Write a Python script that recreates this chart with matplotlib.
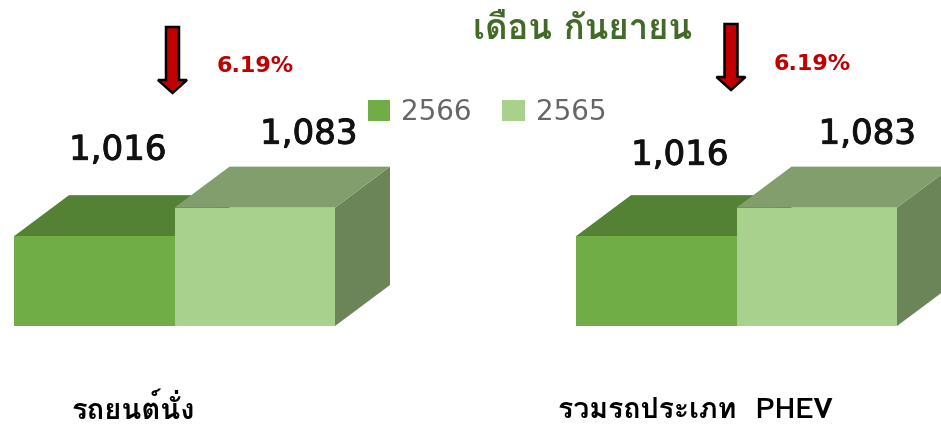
import matplotlib
matplotlib.use('Agg')
import matplotlib.pyplot as plt
import matplotlib.patheffects as pe
from matplotlib.patches import Polygon, FancyArrow

# ---- data ----
title = 'เดือน กันยายน'
years = ['2566', '2565']
categories = ['รถยนต์นั่ง', 'รวมรถประเภท  PHEV']
sales_2566 = [1016, 1016]
sales_2565 = [1083, 1083]
change_pct = [6.19, 6.19]

# ---- style ----
front_col = ['#70AD47', '#A9D18E']
top_col = ['#548235', '#819E6C']
side_col = ['#4E7A30', '#6B8559']
THAI = ['Loma', 'DejaVu Sans']

W, H = 941, 425
fig = plt.figure(figsize=(W / 100, H / 100), dpi=100)

def fx(px):
    return px / W

def fy(py):
    return 1 - py / H

YMIN, YMAX = 805, 1150
PX_PER_UNIT = 0.4257      # vertical pixels per sales unit
BAR_PX = 160.5            # width of one bar front in pixels
DEPTH_PX = (55, 41)       # 3d depth offset (right, up)
BASE_PX = 326             # floor line in pixels from top

panel_left = [14, 576]
label_off = [[(23.5, 86), (54, 73.5)], [(23.5, 81), (50.5, 73.5)]]
arrow_x = [172.5, 731]
arrow_top = [27, 24]
pct_xy = [(255.5, 66), (812, 63.5)]
cat_xy = [(133, 410), (695, 410)]
cat_size = [21, 20.5]

dx = DEPTH_PX[0] / BAR_PX
dy = DEPTH_PX[1] / PX_PER_UNIT

handles = []
for p in range(len(categories)):
    ax_h = (YMAX - YMIN) * PX_PER_UNIT
    ax = fig.add_axes([fx(panel_left[p]), fy(BASE_PX), 2 * BAR_PX / W, ax_h / H])
    ax.set_xlim(-0.5, 1.5)
    ax.set_ylim(YMIN, YMAX)
    ax.axis('off')

    vals = [sales_2566[p], sales_2565[p]]
    for i, v in enumerate(vals):
        x0, x1 = i - 0.5, i + 0.5
        side = Polygon([(x1, YMIN), (x1, v), (x1 + dx, v + dy), (x1 + dx, YMIN + dy)],
                       closed=True, facecolor=side_col[i], edgecolor='none',
                       clip_on=False, zorder=2 + i)
        ax.add_patch(side)
        top = Polygon([(x0, v), (x1, v), (x1 + dx, v + dy), (x0 + dx, v + dy)],
                      closed=True, facecolor=top_col[i], edgecolor='none',
                      clip_on=False, zorder=2 + i)
        ax.add_patch(top)
        bars = ax.bar(i, v, width=1.0, color=front_col[i], label=years[i], zorder=2 + i)
        if p == 0:
            handles.append(bars)
        ax.annotate(f'{v:,}', (i, v), xytext=label_off[p][i], textcoords='offset pixels',
                    ha='center', va='center', fontsize=24.5, color='#111111',
                    family='DejaVu Sans', annotation_clip=False,
                    path_effects=[pe.withStroke(linewidth=0.7, foreground='#111111')])

    # drop arrow and percent change
    top_y = arrow_top[p]
    arr = FancyArrow(fx(arrow_x[p]), fy(top_y), 0, -(66 / H), width=13 / W,
                     head_width=29 / W, head_length=13 / H, length_includes_head=True,
                     transform=fig.transFigure, facecolor='#C00000', edgecolor='black',
                     lw=1.8)
    fig.add_artist(arr)
    fig.text(fx(pct_xy[p][0]), fy(pct_xy[p][1]), f'{change_pct[p]:.2f}%',
             ha='center', va='center', fontsize=16, fontweight='bold', color='#C00000',
             family='DejaVu Sans')

    fig.text(fx(cat_xy[p][0]), fy(cat_xy[p][1]), categories[p], ha='center', va='center',
             fontsize=cat_size[p], fontweight='bold', color='black', family=THAI)

fig.text(fx(583), fy(30), title, ha='center', va='center', fontsize=25,
         fontweight='bold', color='#416A28', family=THAI)

fig.legend(handles=handles, labels=years, loc='center left',
           bbox_to_anchor=(fx(368), fy(112)), ncol=2, frameon=False, fontsize=20,
           handlelength=0.8, handleheight=0.8, handletextpad=0.4, columnspacing=1.1,
           borderpad=0, borderaxespad=0, labelcolor='#666666')

fig.savefig('out.png', dpi=100)
